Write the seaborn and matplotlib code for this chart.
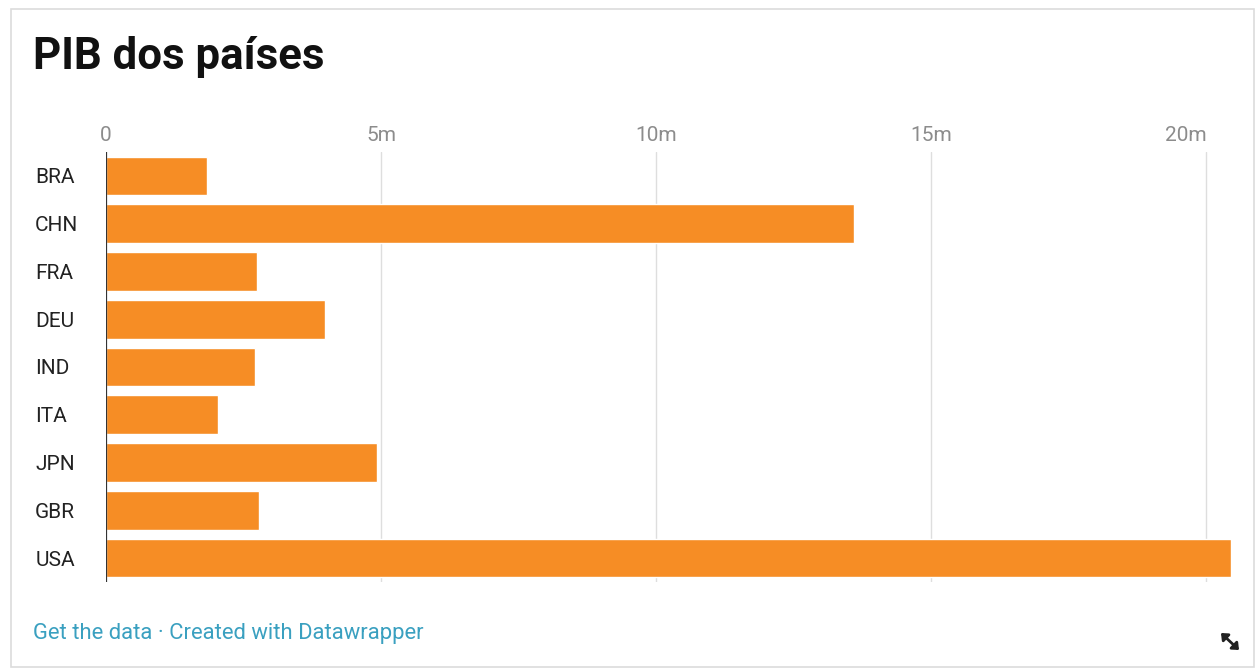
import matplotlib
matplotlib.use("Agg")
import matplotlib.pyplot as plt
import seaborn as sns
import pandas as pd
from matplotlib.patches import Rectangle, FancyArrowPatch

# Data (GDP, trillions -> shown as "m" on the axis)
countries = ["BRA", "CHN", "FRA", "DEU", "IND", "ITA", "JPN", "GBR", "USA"]
gdp = [1.84, 13.6, 2.75, 3.98, 2.71, 2.04, 4.93, 2.78, 20.45]
tick_values = [0, 5, 10, 15, 20]
tick_labels = ["0", "5m", "10m", "15m", "20m"]

df = pd.DataFrame({"country": countries, "gdp": gdp})

sns.set_style("white")
plt.rcParams["font.family"] = ["Roboto", "DejaVu Sans"]

fig = plt.figure(figsize=(12.57, 6.70), dpi=100)
fig.patch.set_facecolor("white")

# outer frame
fig.patches.append(Rectangle((11 / 1257, 3 / 670), 1243 / 1257, 658 / 670,
                             transform=fig.transFigure, fill=False,
                             edgecolor="#dcdcdc", linewidth=1.2))

ax = fig.add_axes([106 / 1257, 1 - 582 / 670, (1231 - 106) / 1257, (582 - 152) / 670])

sns.barplot(data=df, x="gdp", y="country", orient="h", color="#f68d25",
            width=0.81, saturation=1, ax=ax)

ax.set_xlim(0, max(gdp))
ax.set_ylim(len(countries) - 0.5, -0.5)
for v in tick_values[1:]:
    ax.axvline(v, color="#dedede", linewidth=1, zorder=0)
ax.axvline(0, color="#333333", linewidth=1.6, zorder=5)

ax.xaxis.tick_top()
ax.set_xticks(tick_values)
ax.set_xticklabels(tick_labels, fontsize=15, color="#8c8c8c")
ax.get_xticklabels()[-1].set_horizontalalignment("right")
ax.tick_params(axis="x", length=0, pad=5)
ax.tick_params(axis="y", length=0, pad=51)
for lbl in ax.get_yticklabels():
    lbl.set_horizontalalignment("left")
    lbl.set_fontsize(15)
    lbl.set_color("#222222")
ax.set_xlabel("")
ax.set_ylabel("")
for s in ax.spines.values():
    s.set_visible(False)

fig.text(33 / 1257, 1 - 57 / 670, "PIB dos países", fontsize=31.5, fontweight="bold",
         color="#111111", va="center", ha="left")
fig.text(33 / 1257, 1 - 633 / 670, "Get the data · Created with Datawrapper",
         fontsize=15.8, color="#3aa0c0", va="center", ha="left")

# resize icon in the corner
fig.add_artist(FancyArrowPatch(
    (1221 / 1257, 1 - 633 / 670), (1239 / 1257, 1 - 650 / 670),
    transform=fig.transFigure, arrowstyle="<|-|>,head_length=0.35,head_width=0.3",
    mutation_scale=10, shrinkA=0, shrinkB=0, color="#222222", linewidth=2))

fig.savefig("out.png", dpi=100)
